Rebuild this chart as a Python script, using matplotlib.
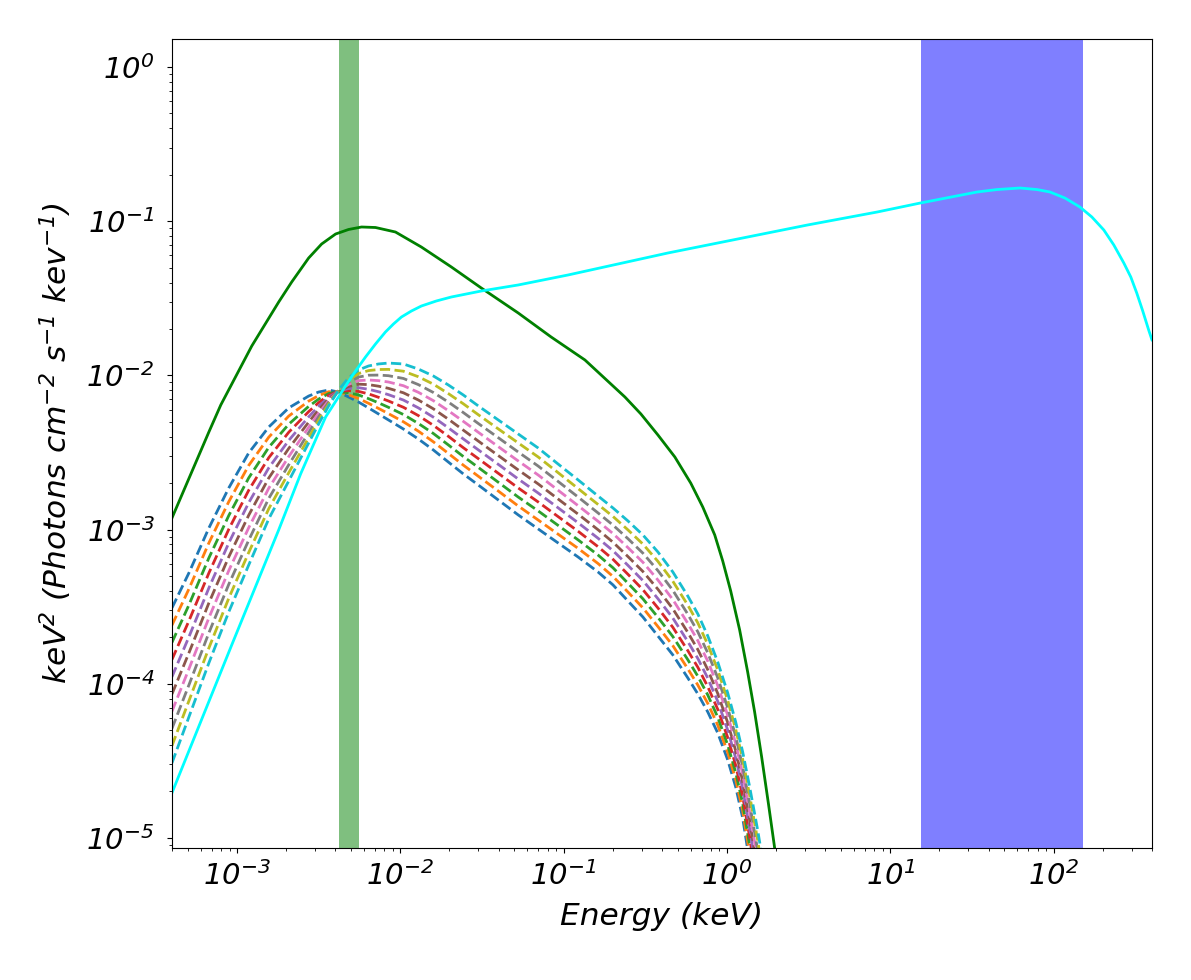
import numpy as np
import matplotlib
matplotlib.use("Agg")
import matplotlib.pyplot as plt

plt.rcParams['font.family'] = ['DejaVu Sans']
plt.rcParams['font.style'] = 'italic'

# ---- data (log-log axes) ----
green_energy = [4.0e-4, 6.73e-4, 7.96e-4, 1.232e-3, 1.801e-3, 2.163e-3, 2.747e-3, 3.298e-3,
                4.016e-3, 4.82e-3, 5.79e-3, 7.05e-3, 9.34e-3, 0.01346, 0.02053, 0.0313,
                0.0527, 0.0838, 0.135, 0.2373, 0.2972, 0.3776, 0.4796, 0.6005, 0.7109,
                0.8416, 0.9419, 1.054, 1.196, 1.339, 1.477, 1.631, 1.799, 1.986, 2.100]
green_flux = [1.189e-3, 4.295e-3, 6.43e-3, 0.01551, 0.02992, 0.04033, 0.05772, 0.07114,
              0.08260, 0.08836, 0.09172, 0.09103, 0.08511, 0.0680, 0.0505, 0.0369,
              0.0254, 0.01775, 0.01259, 7.24e-3, 5.62e-3, 4.11e-3, 2.957e-3, 2.0e-3, 1.401e-3,
              9.23e-4, 6.26e-4, 4.0e-4, 2.233e-4, 1.193e-4, 6.57e-5, 3.35e-5, 1.637e-5, 7.76e-6, 4.96e-6]

cyan_energy = [4.0e-4, 9.3e-4, 1.80e-3, 2.455e-3, 3.489e-3, 4.623e-3, 5.32e-3, 6.125e-3,
               7.05e-3, 8.11e-3, 9.08e-3, 0.01016, 0.01170, 0.01346, 0.01663, 0.02053,
               0.0313, 0.0527, 0.1065, 0.4345, 3.113, 8.34, 15.26, 34.0, 45.1, 62.3,
               79.1, 95.0, 117.3, 144.9, 171.5, 203.0, 233.7, 269.0, 296.9, 323.0, 351.4,
               382.0, 400.0]
cyan_flux = [1.96e-5, 1.79e-4, 9.94e-4, 2.30e-3, 5.37e-3, 8.54e-3, 0.01068, 0.01316,
             0.01598, 0.01912, 0.02154, 0.02391, 0.02616, 0.02818, 0.03038, 0.03224,
             0.03526, 0.03858, 0.0448, 0.0622, 0.0945, 0.1148, 0.1312, 0.1547, 0.1605, 0.1642,
             0.1605, 0.1547, 0.1414, 0.1236, 0.1065, 0.0877, 0.0701, 0.0536, 0.04346, 0.0342, 0.02616,
             0.0197, 0.0170]

# energy grid shared by the ten dashed spectra (keV)
dashed_energy = [4.00e-4, 5.08e-4, 6.73e-4, 8.91e-4, 1.18e-3, 1.565e-3, 2.074e-3, 2.748e-3,
                 3.162e-3, 3.64e-3, 4.19e-3, 4.82e-3, 5.55e-3, 6.39e-3, 7.35e-3, 8.46e-3,
                 0.01045, 0.01291, 0.01594, 0.01968, 0.02430, 0.03002, 0.03978, 0.0527,
                 0.06981, 0.0925, 0.1226, 0.1623, 0.2005, 0.2475, 0.3057, 0.3776, 0.4662,
                 0.5757, 0.6630, 0.7630, 0.8780, 1.011, 1.131, 1.248, 1.377, 1.541, 1.724]
# log10(flux) read on the log axis: one row per energy above, one column per dashed spectrum
dashed_log10_flux_by_energy = [
    [-3.508, -3.620, -3.732, -3.843, -3.955, -4.067, -4.179, -4.290, -4.402, -4.514],
    [-3.281, -3.385, -3.489, -3.592, -3.696, -3.800, -3.904, -4.008, -4.111, -4.215],
    [-2.990, -3.087, -3.184, -3.282, -3.379, -3.476, -3.573, -3.670, -3.768, -3.865],
    [-2.730, -2.819, -2.909, -2.998, -3.087, -3.177, -3.266, -3.355, -3.445, -3.534],
    [-2.503, -2.584, -2.665, -2.745, -2.826, -2.907, -2.988, -3.069, -3.149, -3.230],
    [-2.335, -2.401, -2.467, -2.534, -2.600, -2.666, -2.732, -2.798, -2.865, -2.931],
    [-2.211, -2.264, -2.317, -2.369, -2.422, -2.474, -2.527, -2.580, -2.632, -2.685],
    [-2.134, -2.167, -2.201, -2.235, -2.269, -2.303, -2.337, -2.371, -2.405, -2.438],
    [-2.108, -2.131, -2.154, -2.177, -2.200, -2.223, -2.246, -2.269, -2.292, -2.315],
    [-2.095, -2.106, -2.118, -2.129, -2.141, -2.152, -2.164, -2.175, -2.187, -2.198],
    [-2.108, -2.106, -2.105, -2.104, -2.102, -2.101, -2.099, -2.098, -2.096, -2.095],
    [-2.140, -2.126, -2.113, -2.099, -2.085, -2.072, -2.058, -2.044, -2.030, -2.017],
    [-2.173, -2.150, -2.127, -2.104, -2.080, -2.057, -2.034, -2.011, -1.988, -1.965],
    [-2.211, -2.181, -2.151, -2.120, -2.090, -2.060, -2.030, -1.999, -1.969, -1.939],
    [-2.250, -2.214, -2.178, -2.142, -2.106, -2.070, -2.034, -1.998, -1.962, -1.926],
    [-2.289, -2.248, -2.207, -2.166, -2.125, -2.084, -2.043, -2.002, -1.961, -1.920],
    [-2.348, -2.301, -2.254, -2.207, -2.160, -2.113, -2.067, -2.020, -1.973, -1.926],
    [-2.413, -2.362, -2.312, -2.261, -2.211, -2.160, -2.110, -2.060, -2.009, -1.959],
    [-2.484, -2.431, -2.377, -2.324, -2.271, -2.217, -2.164, -2.111, -2.057, -2.004],
    [-2.562, -2.506, -2.451, -2.395, -2.340, -2.284, -2.229, -2.173, -2.118, -2.062],
    [-2.639, -2.582, -2.526, -2.469, -2.412, -2.355, -2.298, -2.241, -2.184, -2.127],
    [-2.711, -2.654, -2.597, -2.540, -2.483, -2.426, -2.369, -2.312, -2.255, -2.198],
    [-2.808, -2.750, -2.693, -2.635, -2.577, -2.520, -2.462, -2.404, -2.347, -2.289],
    [-2.905, -2.847, -2.789, -2.730, -2.672, -2.613, -2.555, -2.497, -2.438, -2.380],
    [-2.996, -2.938, -2.879, -2.821, -2.763, -2.704, -2.646, -2.588, -2.529, -2.471],
    [-3.087, -3.030, -2.973, -2.916, -2.859, -2.802, -2.745, -2.688, -2.631, -2.575],
    [-3.178, -3.122, -3.067, -3.011, -2.956, -2.900, -2.845, -2.789, -2.734, -2.678],
    [-3.275, -3.220, -3.165, -3.111, -3.056, -3.001, -2.946, -2.892, -2.837, -2.782],
    [-3.359, -3.304, -3.248, -3.193, -3.137, -3.082, -3.026, -2.971, -2.915, -2.860],
    [-3.463, -3.405, -3.348, -3.290, -3.232, -3.175, -3.117, -3.059, -3.002, -2.944],
    [-3.567, -3.508, -3.449, -3.390, -3.331, -3.272, -3.212, -3.153, -3.094, -3.035],
    [-3.690, -3.629, -3.569, -3.508, -3.448, -3.387, -3.327, -3.266, -3.206, -3.145],
    [-3.813, -3.753, -3.694, -3.634, -3.574, -3.514, -3.454, -3.394, -3.335, -3.275],
    [-3.962, -3.903, -3.844, -3.785, -3.726, -3.667, -3.608, -3.549, -3.490, -3.431],
    [-4.066, -4.008, -3.951, -3.893, -3.836, -3.778, -3.720, -3.663, -3.605, -3.547],
    [-4.183, -4.128, -4.073, -4.019, -3.964, -3.909, -3.854, -3.800, -3.745, -3.690],
    [-4.319, -4.268, -4.217, -4.166, -4.114, -4.063, -4.012, -3.961, -3.910, -3.859],
    [-4.494, -4.446, -4.398, -4.349, -4.301, -4.253, -4.205, -4.157, -4.108, -4.060],
    [-4.669, -4.622, -4.575, -4.529, -4.482, -4.435, -4.388, -4.341, -4.295, -4.248],
    [-4.870, -4.823, -4.775, -4.728, -4.680, -4.633, -4.585, -4.537, -4.490, -4.442],
    [-5.156, -5.102, -5.048, -4.994, -4.940, -4.886, -4.832, -4.778, -4.724, -4.669],
    [-5.532, -5.467, -5.402, -5.337, -5.273, -5.208, -5.143, -5.078, -5.013, -4.948],
    [-5.953, -5.876, -5.799, -5.722, -5.645, -5.568, -5.491, -5.414, -5.337, -5.259],
]
dashed_colors = ['C0', 'C1', 'C2', 'C3', 'C4', 'C5', 'C6', 'C7', 'C8', 'C9']

green_band = [4.2e-3, 5.6e-3]
blue_band = [15.4, 151.0]

x_limits = [4e-4, 4e2]
y_limits = [8.6e-6, 1.52]
x_major = [1e-3, 1e-2, 1e-1, 1e0, 1e1, 1e2]
y_major = [1e-5, 1e-4, 1e-3, 1e-2, 1e-1, 1e0]

# ---- figure ----
fig = plt.figure(figsize=(11.91, 9.80), dpi=100)
ax = fig.add_axes([0.1444, 0.1347, 0.8228, 0.8255])

ax.axvspan(green_band[0], green_band[1], color='green', alpha=0.5, lw=0)
ax.axvspan(blue_band[0], blue_band[1], color='blue', alpha=0.5, lw=0)

dashed_table = np.array(dashed_log10_flux_by_energy).T
for lf, c in zip(dashed_table, dashed_colors):
    ax.plot(dashed_energy, 10 ** lf, ls='--', color=c, lw=2)

ax.plot(green_energy, green_flux, color='green', lw=2)
ax.plot(cyan_energy, cyan_flux, color='cyan', lw=2)

ax.set_xscale('log')
ax.set_yscale('log')
ax.set_xticks(x_major)
ax.set_yticks(y_major)
ax.set_xlim(x_limits)
ax.set_ylim(y_limits)

ax.tick_params(axis='both', which='major', labelsize=21)
ax.tick_params(axis='x', which='major', pad=6)
ax.tick_params(axis='y', which='major', pad=9)
ax.set_xlabel('Energy (keV)', fontsize=22.5, labelpad=8)
ax.set_ylabel(r'keV$^{2}$ (Photons cm$^{-2}$ s$^{-1}$ kev$^{-1}$)', fontsize=22.5, labelpad=9)

fig.savefig('out.png', dpi=100)
